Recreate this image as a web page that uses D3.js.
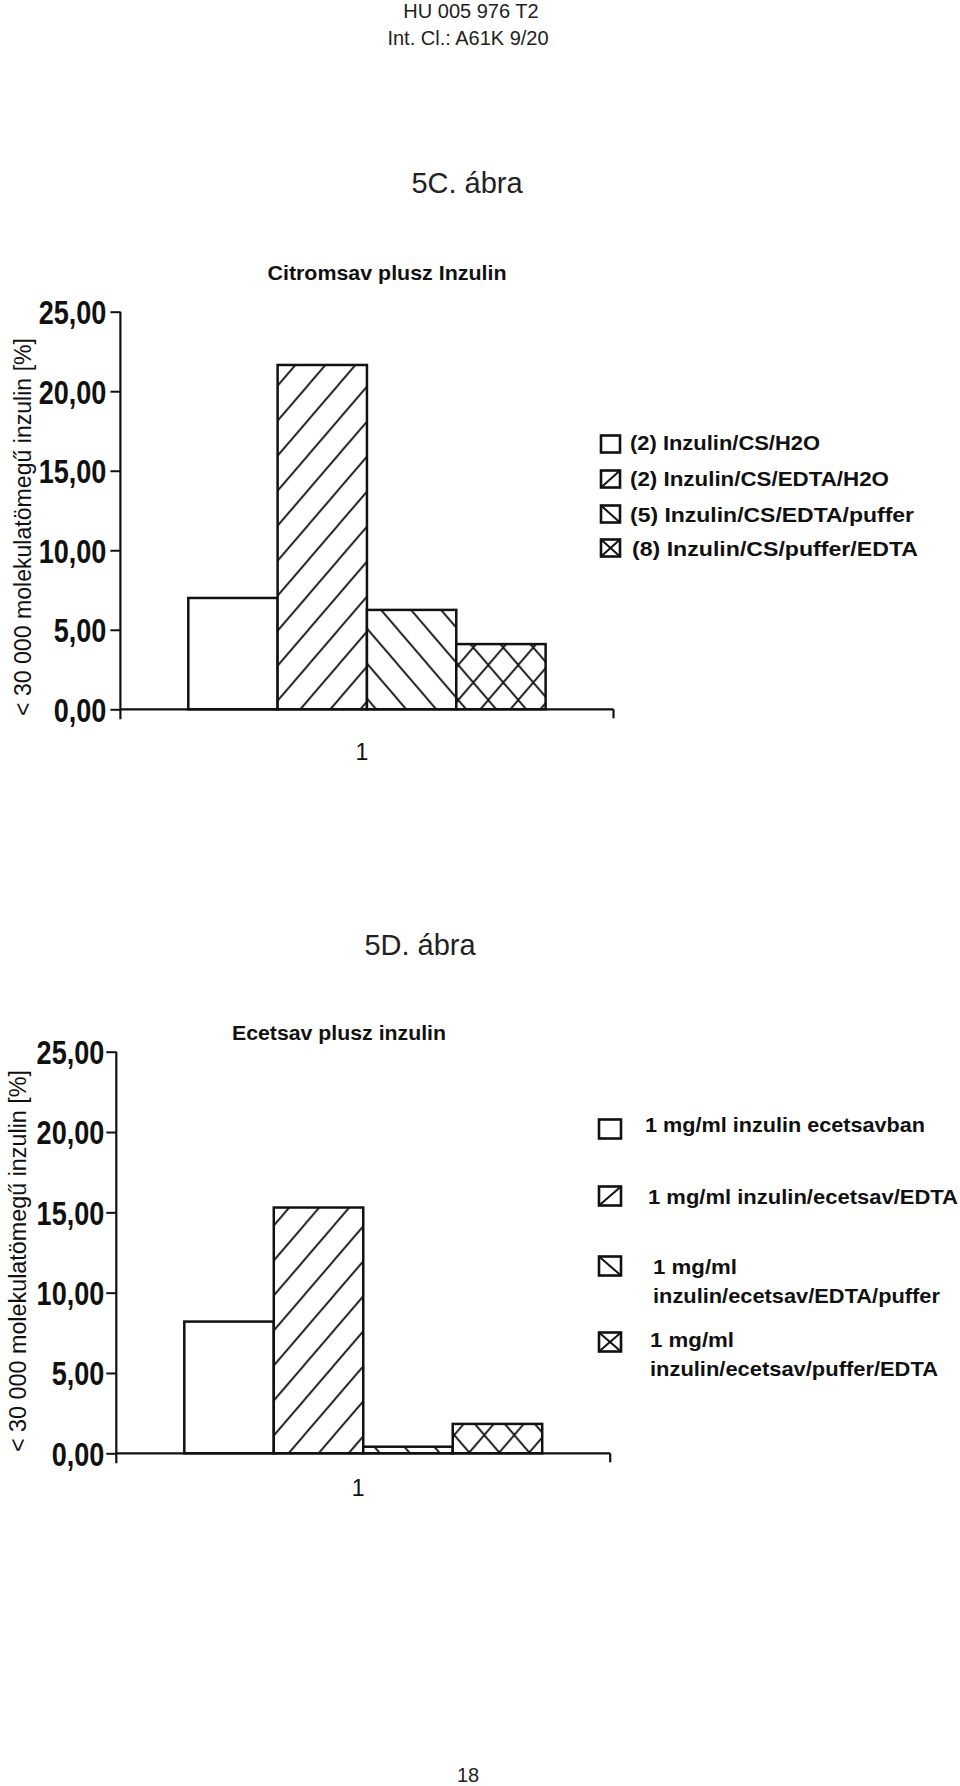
<!DOCTYPE html>
<html>
<head>
<meta charset="utf-8">
<script src="https://cdnjs.cloudflare.com/ajax/libs/d3/7.8.5/d3.min.js"></script>
<style>
  body { margin: 0; background: #fff; }
  svg { display: block; }
  text { font-family: "Liberation Sans", Arial, sans-serif; fill: #111; }
</style>
</head>
<body>
<svg id="page" width="960" height="1786"></svg>
<script>
// values
const tickValues = [0, 5, 10, 15, 20, 25];
const categories = ["1"];
const yLabel = "< 30 000 molekulatömegű inzulin [%]";

const seriesC = ["(2) Inzulin/CS/H2O", "(2) Inzulin/CS/EDTA/H2O", "(5) Inzulin/CS/EDTA/puffer", "(8) Inzulin/CS/puffer/EDTA"];
const valuesC = [7.0, 21.65, 6.25, 4.1];

const seriesD = ["1 mg/ml inzulin ecetsavban", "1 mg/ml inzulin/ecetsav/EDTA", "1 mg/ml\ninzulin/ecetsav/EDTA/puffer", "1 mg/ml\ninzulin/ecetsav/puffer/EDTA"];
const valuesD = [8.2, 15.3, 0.41, 1.83];

const fills = ["white", "url(#hatchF)", "url(#hatchB)", "url(#hatchX)"];

const svg = d3.select("#page");
const defs = svg.append("defs");

// hatch patterns like the old excel print
const W = 30, H = 35;
function hatch(id, dirs) {
    const p = defs.append("pattern")
        .attr("id", id)
        .attr("patternUnits", "userSpaceOnUse")
        .attr("width", W).attr("height", H);
    p.append("rect").attr("width", W).attr("height", H).attr("fill", "white");
    dirs.forEach(function(a) {
        var d;
        if (a == "f") {
            d = "M0," + H + " L" + W + ",0" +
                " M" + (-W / 2) + "," + (H / 2) + " L" + (W / 2) + "," + (-H / 2) +
                " M" + (W / 2) + "," + (1.5 * H) + " L" + (1.5 * W) + "," + (H / 2);
        } else {
            d = "M0,0 L" + W + "," + H +
                " M" + (W / 2) + "," + (-H / 2) + " L" + (1.5 * W) + "," + (H / 2) +
                " M" + (-W / 2) + "," + (H / 2) + " L" + (W / 2) + "," + (1.5 * H);
        }
        p.append("path").attr("d", d).attr("stroke", "#111").attr("stroke-width", 1.8).attr("fill", "none");
    });
}
hatch("hatchF", ["f"]);
hatch("hatchB", ["b"]);
hatch("hatchX", ["f", "b"]);

// page texts
function pageText(txt, x, y, size) {
    svg.append("text").attr("x", x).attr("y", y)
        .attr("text-anchor", "middle")
        .attr("font-size", size)
        .style("fill", "#222")
        .text(txt);
}
pageText("HU 005 976 T2", 471, 18, 20);
pageText("Int. Cl.: A61K 9/20", 468, 45, 20);
pageText("5C. ábra", 467, 193, 29);
pageText("5D. ábra", 420, 955, 29);
pageText("18", 468, 1782, 20);

function drawChart(cfg) {
    const g = svg.append("g");

    const y = d3.scaleLinear().domain([0, 25]).range([cfg.y0, cfg.y25]);
    const x0 = d3.scaleBand().domain(categories).range([cfg.xL, cfg.xR]).paddingInner(0).paddingOuter(0.19);
    const x1 = d3.scaleBand().domain(d3.range(cfg.values.length)).range([0, x0.bandwidth()]);

    // title
    g.append("text")
        .attr("x", cfg.titleX).attr("y", cfg.titleY)
        .attr("text-anchor", "middle")
        .attr("font-size", 21)
        .attr("font-weight", "bold")
        .attr("textLength", cfg.titleW).attr("lengthAdjust", "spacingAndGlyphs")
        .text(cfg.title);

    // bars
    const grp = g.append("g").attr("transform", "translate(" + x0("1") + ",0)");
    grp.selectAll("rect")
        .data(cfg.values)
        .enter().append("rect")
        .attr("x", function(d, i) { return x1(i); })
        .attr("y", function(d) { return y(d); })
        .attr("width", x1.bandwidth())
        .attr("height", function(d) { return y(0) - y(d); })
        .attr("fill", function(d, i) { return fills[i]; })
        .attr("stroke", "#111")
        .attr("stroke-width", 2.5);

    // y axis
    const yAxis = d3.axisLeft(y).tickValues(tickValues).tickSize(10).tickFormat(function(d) { return d3.format(".2f")(d).replace(".", ","); });
    const ay = g.append("g").attr("transform", "translate(" + cfg.xL + ",0)").call(yAxis);
    ay.select(".domain").remove();
    ay.selectAll(".tick line").attr("stroke", "#111").attr("stroke-width", 2);
    ay.selectAll(".tick text")
        .attr("x", cfg.tickX)
        .attr("dy", "0.36em")
        .attr("font-size", 33)
        .attr("font-weight", "bold")
        .attr("font-family", "'Liberation Sans', Arial, sans-serif")
        .style("fill", "#111")
        .each(function() {
            // squeeze to the narrow scan look
            const w = this.getComputedTextLength();
            d3.select(this).attr("textLength", w * 0.82).attr("lengthAdjust", "spacingAndGlyphs");
        });
    g.append("line")
        .attr("x1", cfg.xL).attr("x2", cfg.xL)
        .attr("y1", y(25)).attr("y2", y(0) + 10)
        .attr("stroke", "#111").attr("stroke-width", 2.2);

    // x axis
    g.append("line")
        .attr("x1", cfg.xL).attr("x2", cfg.xR)
        .attr("y1", y(0)).attr("y2", y(0))
        .attr("stroke", "#111").attr("stroke-width", 2.2);
    g.append("line")
        .attr("x1", cfg.xR).attr("x2", cfg.xR)
        .attr("y1", y(0)).attr("y2", y(0) + 9)
        .attr("stroke", "#111").attr("stroke-width", 2.2);
    g.append("text")
        .attr("x", x0("1") + x0.bandwidth() / 2 - 5)
        .attr("y", cfg.catY)
        .attr("text-anchor", "middle")
        .attr("font-size", 23)
        .text(categories[0]);

    // y label
    g.append("text")
        .attr("transform", "translate(" + cfg.labX + "," + cfg.labY + ") rotate(-90)")
        .attr("text-anchor", "middle")
        .attr("dy", "0.35em")
        .attr("font-size", 23)
        .attr("textLength", cfg.labW).attr("lengthAdjust", "spacingAndGlyphs")
        .text(yLabel);

    // legend
    const lg = g.append("g");
    cfg.series.forEach(function(s, i) {
        const by = cfg.boxY[i];
        const bx = cfg.boxX;
        const bw = cfg.boxW, bh = cfg.boxH;
        lg.append("rect")
            .attr("x", bx).attr("y", by - bh / 2)
            .attr("width", bw).attr("height", bh)
            .attr("fill", "white").attr("stroke", "#111").attr("stroke-width", 2.6);
        if (i == 1 || i == 3) {
            lg.append("line").attr("x1", bx).attr("y1", by + bh / 2).attr("x2", bx + bw).attr("y2", by - bh / 2)
                .attr("stroke", "#111").attr("stroke-width", 2);
        }
        if (i == 2 || i == 3) {
            lg.append("line").attr("x1", bx).attr("y1", by - bh / 2).attr("x2", bx + bw).attr("y2", by + bh / 2)
                .attr("stroke", "#111").attr("stroke-width", 2);
        }
        const lines = s.split("\n");
        lines.forEach(function(l, j) {
            lg.append("text")
                .attr("x", cfg.textX[i]).attr("y", cfg.textY[i][j])
                .attr("dy", "0.35em")
                .attr("font-size", 21)
                .attr("font-weight", "bold")
                .attr("textLength", cfg.textW[i][j]).attr("lengthAdjust", "spacingAndGlyphs")
                .text(l);
        });
    });
}

drawChart({
    title: "Citromsav plusz Inzulin", titleX: 387, titleY: 280, titleW: 239,
    values: valuesC, series: seriesC,
    xL: 120.4, xR: 613.5, y0: 709.3, y25: 311.7,
    tickX: -14, catY: 760,
    labX: 23, labY: 527, labW: 378,
    boxX: 601, boxW: 19, boxH: 17, boxY: [444, 479, 514, 548],
    textX: [630, 630, 630, 632],
    textY: [[443], [479], [515], [549]],
    textW: [[190], [259], [284], [286]]
});

drawChart({
    title: "Ecetsav plusz inzulin", titleX: 339, titleY: 1040, titleW: 214,
    values: valuesD, series: seriesD,
    xL: 116.3, xR: 610.2, y0: 1453.3, y25: 1051.7,
    tickX: -12, catY: 1496,
    labX: 18, labY: 1261, labW: 382,
    boxX: 599, boxW: 22, boxH: 19, boxY: [1129, 1196, 1266, 1342],
    textX: [645, 648, 653, 650],
    textY: [[1125], [1197], [1267, 1296], [1340, 1369]],
    textW: [[280], [310], [84, 287], [84, 288]]
});
</script>
</body>
</html>
